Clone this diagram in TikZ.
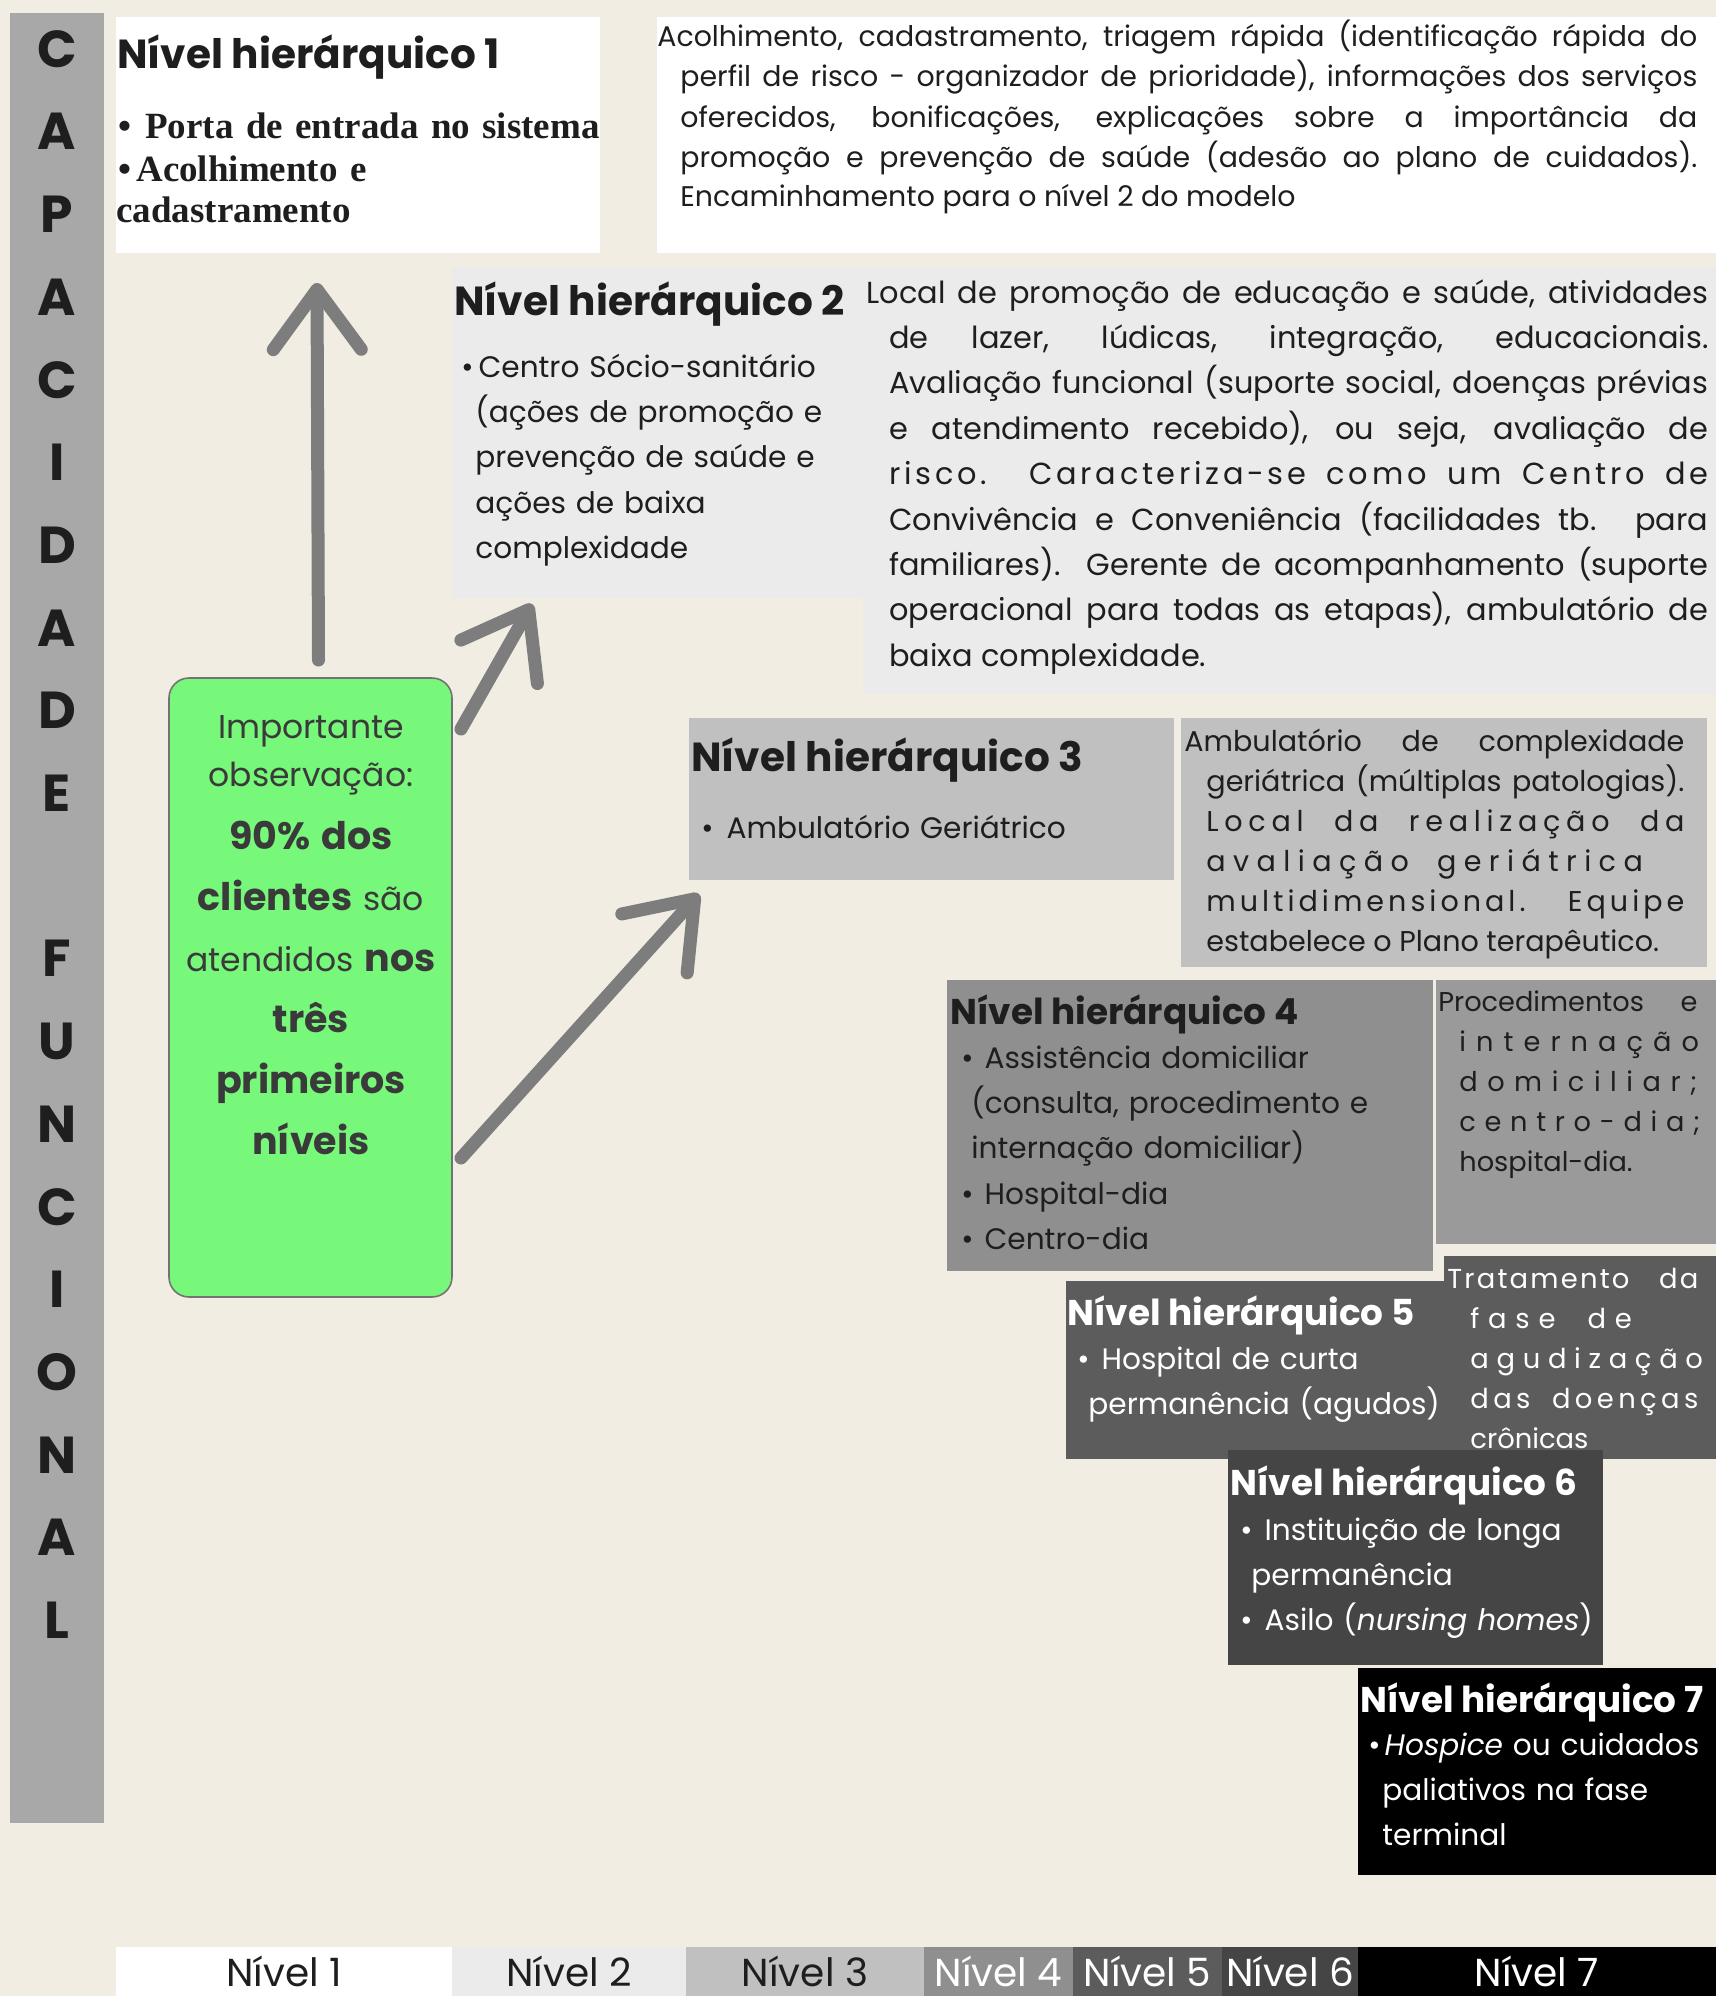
\documentclass[tikz,border=0pt]{standalone}
\usepackage{fontspec}
\setmainfont{Poppins}
\newfontfamily\bookserif{Liberation Serif}
\usepackage{xcolor}
\usetikzlibrary{arrows.meta, positioning}

\definecolor{paper}{HTML}{F1EDE3}
\definecolor{sidebar}{HTML}{A8A8A8}
\definecolor{levelTwo}{HTML}{EBEBEB}
\definecolor{levelThree}{HTML}{C0C0C0}
\definecolor{levelFour}{HTML}{8F8F8F}
\definecolor{levelFourB}{HTML}{9A9A9A}
\definecolor{levelFive}{HTML}{5C5C5C}
\definecolor{levelSix}{HTML}{454545}
\definecolor{noteGreen}{HTML}{77F87A}
\definecolor{ink}{HTML}{1E1E1E}
\definecolor{noteInk}{HTML}{3A3A3A}
\definecolor{chalk}{HTML}{7D7D7D}

% letter spacing and justified lines
\newcommand{\ls}[2]{{\addfontfeature{LetterSpace=#1}#2}}
\newlength{\hangw}
\newcommand{\jfirst}[1]{\makebox[\linewidth][s]{\spaceskip=0pt\xspaceskip=0pt #1}}
\newcommand{\jhang}[1]{\hspace*{\hangw}\makebox[\dimexpr\linewidth-\hangw\relax][s]{\spaceskip=0pt\xspaceskip=0pt #1}}
\newcommand{\rhang}[1]{\hspace*{\hangw}{\spaceskip=0pt\xspaceskip=0pt #1}}
\newcommand{\nb}[1]{{\fontsize{19}{30.5}\selectfont\bfseries #1}}

\begin{document}
\begin{tikzpicture}[
    x=0.5pt, y=-0.5pt,
    panel/.style={rectangle, anchor=north west, inner sep=0pt, outer sep=0pt},
    title/.style={anchor=base west, inner sep=0pt, text=ink, font=\bfseries\fontsize{20.3}{24}\selectfont},
    titlesm/.style={title, font=\bfseries\fontsize{17.9}{22}\selectfont},
    items/.style={anchor=base west, inner sep=0pt, align=left, text=ink, text width=260pt, font=\fontsize{14.8}{22.7}\selectfont},
    desc/.style={anchor=base west, inner sep=0pt, align=left, text=ink, text width=#1},
    vletter/.style={inner sep=0pt, text=ink, font=\bfseries\fontsize{26}{30}\selectfont},
    barlabel/.style={panel, minimum height=24.5pt, font=\fontsize{19.5}{22}\selectfont},
    arrow/.style={draw=chalk, line width=6.5pt, line cap=round, line join=round, -{Straight Barb[length=30pt, width=44pt, round]}}
]

% Background
\fill[paper] (0,0) rectangle (1716,1996);
\useasboundingbox (0,0) rectangle (1716,1996);

% Side bar
\node[panel, fill=sidebar, minimum width=47pt, minimum height=905pt] (sidebar) at (10,13) {};
\foreach \ch [count=\i from 0] in {C,A,P,A,C,I,D,A,D,E}
    \node[vletter] (capA\i) at (57,49+82.7*\i) {\ch};
\foreach \ch [count=\i from 11] in {F,U,N,C,I,O,N,A,L}
    \node[vletter] (capB\i) at (57,49+82.7*\i) {\ch};

% Level 1
\node[panel, fill=white, minimum width=242pt, minimum height=118pt] (lvl1) at (116,17) {};
\node[panel, fill=white, minimum width=529.5pt, minimum height=118pt] (lvl1note) at (657,17) {};
\node[title] (title1) at (117,69) {Nível hierárquico 1};
\node[anchor=base west, inner sep=0pt, align=left, text width=300pt, text=ink, font=\bookserif\bfseries\fontsize{18.5}{21}\selectfont] (items1) at (118,139)
    {•\hspace{7pt}Porta de entrada no sistema\\•\hspace{2.5pt}Acolhimento e\\\hspace*{-1pt}cadastramento};
\node[desc=520pt, font=\fontsize{14.2}{20}\selectfont] (desc1) at (657,47)
    {\setlength{\hangw}{11.5pt}%
    \jfirst{Acolhimento, cadastramento, triagem rápida (identificação rápida do}\\
    \jhang{perfil de risco - organizador de prioridade), informações dos serviços}\\
    \jhang{oferecidos, bonificações, explicações sobre a importância da}\\
    \jhang{promoção e prevenção de saúde (adesão ao plano de cuidados).}\\
    \rhang{Encaminhamento para o nível 2 do modelo}};

% Level 2
\node[panel, fill=levelTwo, minimum width=205.5pt, minimum height=165.5pt] (lvl2) at (452,267) {};
\node[panel, fill=levelTwo, minimum width=426.5pt, minimum height=213.5pt] (lvl2note) at (863,267) {};
\node[title] (title2) at (454,315) {Nível hierárquico 2};
\node[items] (items2) at (461,377)
    {•\hspace{2.5pt}Centro Sócio-sanitário\\\hspace*{7pt}(ações de promoção e\\\hspace*{7pt}prevenção de saúde e\\\hspace*{7pt}ações de baixa\\\hspace*{7pt}complexidade};
\node[desc=421pt, font=\fontsize{15.2}{22.7}\selectfont] (desc2) at (866,303)
    {\setlength{\hangw}{11.5pt}%
    \jfirst{Local de promoção de educação e saúde, atividades}\\
    \jhang{de lazer, lúdicas, integração, educacionais.}\\
    \jhang{Avaliação funcional (suporte social, doenças prévias}\\
    \jhang{e atendimento recebido), ou seja, avaliação de}\\
    \jhang{\ls{12}{risco. Caracteriza-se como um Centro de}}\\
    \jhang{Convivência e Conveniência (facilidades tb. para}\\
    \jhang{familiares). Gerente de acompanhamento (suporte}\\
    \jhang{operacional para todas as etapas), ambulatório de}\\
    \rhang{baixa complexidade.}};

% Level 3
\node[panel, fill=levelThree, minimum width=242.5pt, minimum height=81pt] (lvl3) at (689,718) {};
\node[panel, fill=levelThree, minimum width=263pt, minimum height=124.5pt] (lvl3note) at (1181,718) {};
\node[title] (title3) at (691,771) {Nível hierárquico 3};
\node[items] (items3) at (701,838) {•\hspace{6.5pt}Ambulatório Geriátrico};
\node[desc=250pt, font=\fontsize{14.3}{20}\selectfont] (desc3) at (1184,751)
    {\setlength{\hangw}{11pt}%
    \jfirst{Ambulatório de complexidade}\\
    \jhang{geriátrica (múltiplas patologias).}\\
    \jhang{\ls{20}{Local da realização da}}\\
    \rhang{\ls{26}{avaliação\hspace{14pt}geriátrica}}\\
    \jhang{\ls{14}{multidimensional. Equipe}}\\
    \rhang{estabelece o Plano terapêutico.}};

% Level 4
\node[panel, fill=levelFour, minimum width=243pt, minimum height=145.5pt] (lvl4) at (947,980) {};
\node[panel, fill=levelFourB, minimum width=140pt, minimum height=132pt] (lvl4note) at (1436,980) {};
\node[titlesm] (title4) at (950,1024) {Nível hierárquico 4};
\node[items] (items4) at (961,1068)
    {•\hspace{5.5pt}Assistência domiciliar\\\hspace*{5pt}(consulta, procedimento e\\\hspace*{5pt}internação domiciliar)\\•\hspace{5.5pt}Hospital-dia\\•\hspace{5.5pt}Centro-dia};
\node[desc=129.5pt, font=\fontsize{13.6}{20}\selectfont] (desc4) at (1438,1011)
    {\setlength{\hangw}{10.5pt}%
    \jfirst{Procedimentos e}\\
    \rhang{\ls{37}{internação}}\\
    \rhang{\ls{35}{domiciliar;}}\\
    \rhang{\ls{32}{centro-dia;}}\\
    \rhang{hospital-dia.}};

% Level 5
\node[panel, fill=levelFive, minimum width=189pt, minimum height=89pt] (lvl5) at (1066,1281) {};
\node[panel, fill=levelFive, minimum width=136pt, minimum height=101.5pt] (lvl5note) at (1444,1256) {};
\node[titlesm, text=white] (title5) at (1067,1325) {Nível hierárquico 5};
\node[items, text=white] (items5) at (1077,1369)
    {•\hspace{6pt}Hospital de curta\\\hspace*{5.5pt}permanência (agudos)};
\node[desc=125.5pt, text=white, font=\fontsize{13.7}{20}\selectfont] (desc5) at (1447,1288)
    {\setlength{\hangw}{11.5pt}%
    \jfirst{\ls{8}{Tratamento da}}\\
    \rhang{\ls{32}{fase\hspace{16pt}de}}\\
    \rhang{\ls{28}{agudização}}\\
    \jhang{\ls{16}{das doenças}}\\
    \rhang{crônicas}};

% Level 6
\node[panel, fill=levelSix, minimum width=187.5pt, minimum height=107.5pt] (lvl6) at (1228,1450) {};
\node[titlesm, text=white] (title6) at (1230,1495) {Nível hierárquico 6};
\node[items, text=white] (items6) at (1240,1540)
    {•\hspace{6pt}Instituição de longa\\\hspace*{5.5pt}permanência\\•\hspace{6pt}Asilo (\textit{nursing homes})};

% Level 7
\node[panel, fill=black, minimum width=179pt, minimum height=103.5pt] (lvl7) at (1358,1668) {};
\node[titlesm, text=white] (title7) at (1360,1712) {Nível hierárquico 7};
\node[items, text=white] (items7) at (1368,1755)
    {•\hspace{2pt}\textit{Hospice} ou cuidados\\\hspace*{7pt}paliativos na fase\\\hspace*{7pt}terminal};

% Note
\node[panel, fill=noteGreen, draw=black!55, line width=0.8pt, rounded corners=10pt, minimum width=141.5pt, minimum height=309.5pt] (note) at (169,678) {};
\node[anchor=base, inner sep=0pt, align=center, text width=141pt, text=noteInk, font=\fontsize{16.5}{30.5}\selectfont] (notetext) at (311,738)
    {Importante\\[-6.5pt]observação:\\[1pt]\nb{90\% dos}\\\nb{clientes} são\\atendidos \nb{nos}\\\nb{três}\\\nb{primeiros}\\\nb{níveis}};

% Arrows
\draw[arrow] ([shift={(8,-18)}]note.north) -- ([shift={(-41,30)}]lvl1.south);
\draw[arrow] ([shift={(9,51)}]note.north east) -- ([shift={(80,6)}]lvl2.south west);
\draw[arrow] ([shift={(9,480)}]note.north east) -- ([shift={(10,14)}]lvl3.south west);

% Scale at the bottom
\node[barlabel, fill=white, minimum width=168pt, text=ink] (bar1) at (116,1947) {Nível 1};
\node[barlabel, fill=levelTwo, minimum width=117pt, text=ink] (bar2) at (452,1947) {Nível 2};
\node[barlabel, fill=levelThree, minimum width=119pt, text=ink] (bar3) at (686,1947) {Nível 3};
\node[barlabel, fill=levelFour, minimum width=74.5pt, text=white] (bar4) at (924,1947) {Nível 4};
\node[barlabel, fill=levelFive, minimum width=74.5pt, text=white] (bar5) at (1073,1947) {Nível 5};
\node[barlabel, fill=levelSix, minimum width=68pt, text=white] (bar6) at (1222,1947) {Nível 6};
\node[barlabel, fill=black, minimum width=179pt, text=white] (bar7) at (1358,1947) {Nível 7};

\end{tikzpicture}
\end{document}
